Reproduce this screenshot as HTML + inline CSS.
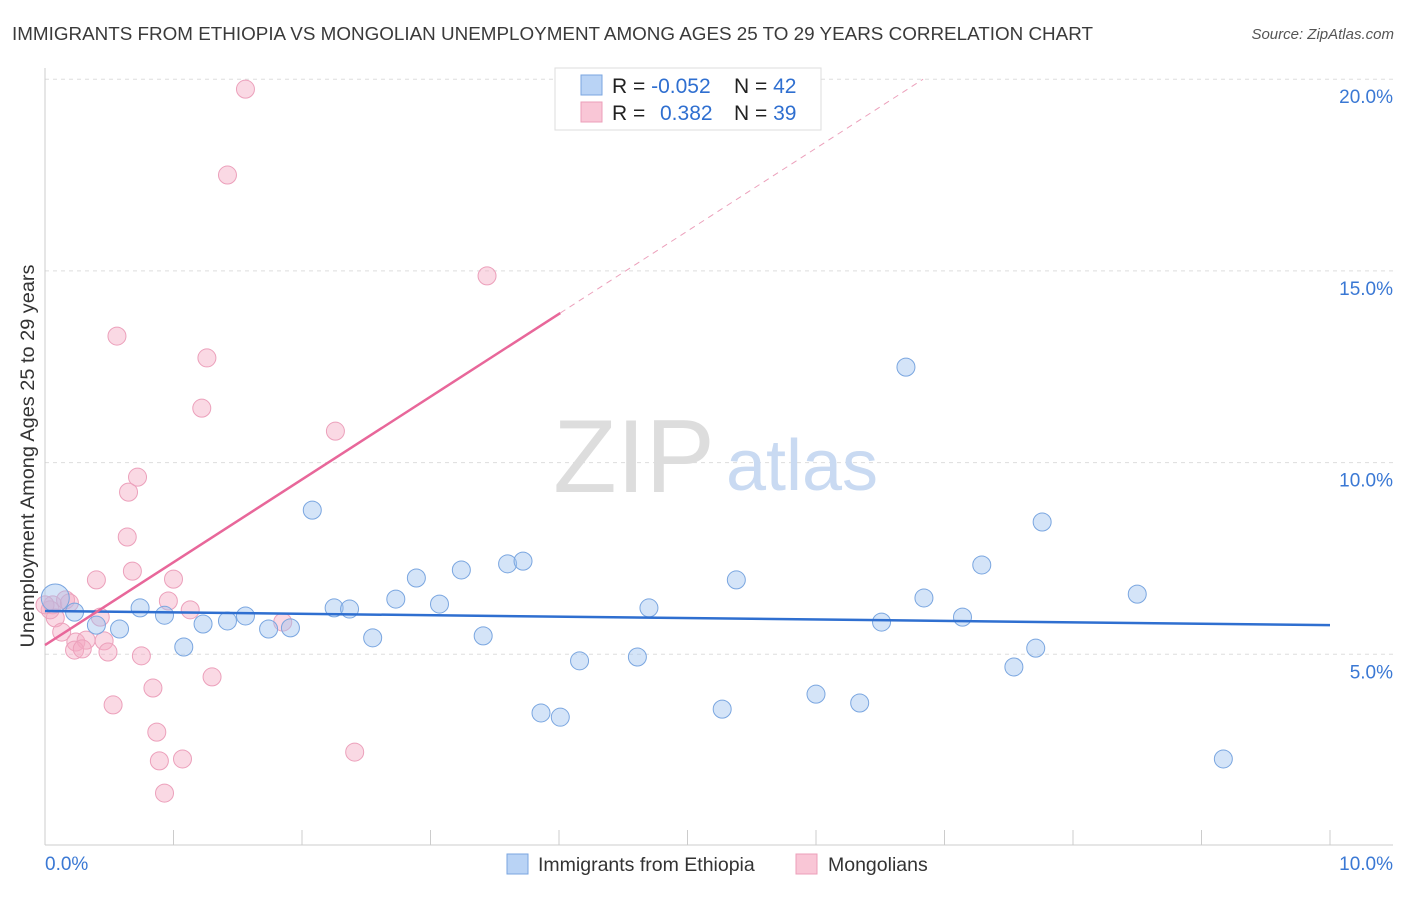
<!DOCTYPE html>
<html><head><meta charset="utf-8"><style>
body{margin:0;background:#fff;font-family:"Liberation Sans",sans-serif;}
svg text{font-family:"Liberation Sans",sans-serif;}
</style></head><body>
<svg id="chart" width="1406" height="892" xmlns="http://www.w3.org/2000/svg">
<text x="12" y="40" font-size="18.5" fill="#3a3a3a" textLength="1081" lengthAdjust="spacingAndGlyphs">IMMIGRANTS FROM ETHIOPIA VS MONGOLIAN UNEMPLOYMENT AMONG AGES 25 TO 29 YEARS CORRELATION CHART</text>
<text x="1394" y="39" font-size="15" fill="#555" text-anchor="end" font-style="italic">Source: ZipAtlas.com</text>
<g id="grid"></g>
<text x="634" y="492" font-size="104" fill="#ddd" font-family="Liberation Serif" text-anchor="middle">ZIP</text>
<text x="802" y="490" font-size="72" fill="#c9daf2" text-anchor="middle">atlas</text>
<g id="marks"></g>
<text transform="translate(34,456) rotate(-90)" font-size="19" fill="#333" text-anchor="middle" textLength="383" lengthAdjust="spacingAndGlyphs">Unemployment Among Ages 25 to 29 years</text>
<g>
<rect x="555" y="68" width="266" height="62" fill="#fff" stroke="#ddd"/>
<rect x="581" y="75" width="21" height="20" fill="#b9d3f5" stroke="#7aa6e0"/>
<rect x="581" y="102" width="21" height="20" fill="#f9c6d6" stroke="#ec9fb9"/>
<text x="612" y="93" font-size="21" fill="#222">R = <tspan fill="#2f6fd0">-0.052</tspan></text>
<text x="734" y="93" font-size="21" fill="#222">N = <tspan fill="#2f6fd0">42</tspan></text>
<text x="612" y="120" font-size="21" fill="#222">R = <tspan fill="#2f6fd0" x="660">0.382</tspan></text>
<text x="734" y="120" font-size="21" fill="#222">N = <tspan fill="#2f6fd0">39</tspan></text>
</g>
<g>
<rect x="507" y="854" width="21" height="20" fill="#b9d3f5" stroke="#7aa6e0"/>
<text x="538" y="871" font-size="19.5" fill="#333">Immigrants from Ethiopia</text>
<rect x="796" y="854" width="21" height="20" fill="#f9c6d6" stroke="#ec9fb9"/>
<text x="828" y="871" font-size="19.5" fill="#333">Mongolians</text>
</g>
</svg>
<script>
const yTicks=[5,10,15,20];
const yTickLabels=["5.0%","10.0%","15.0%","20.0%"];
const xTickLabels=["0.0%","10.0%"];
const blueX=[0.08,0.23,0.40,0.58,0.74,0.93,1.08,1.23,1.42,1.56,1.74,1.91,2.08,2.25,2.37,2.55,2.73,2.89,3.07,3.24,3.41,3.60,3.72,3.86,4.01,4.16,4.61,4.70,5.27,5.38,6.00,6.34,6.51,6.70,6.84,7.14,7.29,7.54,7.71,7.76,8.50,9.17];
const blueY=[6.47,6.10,5.76,5.66,6.21,6.02,5.19,5.79,5.87,6.00,5.66,5.69,8.76,6.21,6.18,5.43,6.44,6.99,6.31,7.20,5.48,7.36,7.43,3.47,3.36,4.83,4.93,6.21,3.57,6.94,3.96,3.73,5.84,12.49,6.47,5.97,7.33,4.67,5.16,8.45,6.57,2.27];
const pinkX=[1.56,1.42,3.44,0.56,1.26,1.22,2.26,0.72,0.65,0.64,0.68,0.40,1.00,0.96,1.13,0.06,0.16,0.19,0.08,0.13,0.24,0.32,0.43,0.46,0.23,0.29,0.49,0.75,0.84,0.53,0.87,0.89,1.07,0.93,1.30,2.41,1.85,0.04,0.00];
const pinkY=[19.74,17.50,14.87,13.30,12.73,11.42,10.82,9.62,9.23,8.06,7.17,6.94,6.96,6.39,6.16,6.29,6.42,6.34,5.95,5.58,5.32,5.37,5.97,5.35,5.11,5.14,5.06,4.96,4.12,3.68,2.97,2.22,2.27,1.38,4.41,2.45,5.84,6.16,6.29];
const blueTrend=[6.13,-0.037];
const pinkTrend=[5.24,2.16];
const pinkSolidEnd=4.01;

const NS="http://www.w3.org/2000/svg";
const X=v=>45+v*128.5, Y=v=>846-v*38.34;
function mk(t,a,p){const e=document.createElementNS(NS,t);for(const k in a)e.setAttribute(k,a[k]);p.appendChild(e);return e;}
const g=document.getElementById('grid'), m=document.getElementById('marks');
yTicks.forEach((t,i)=>{
 const l=mk('line',{x1:45,x2:1393,y1:Y(t),y2:Y(t),stroke:'#ddd','stroke-dasharray':'4,4'},g);
 
 
 const tx=mk('text',{x:1393,y:Y(t)+24,'font-size':19,fill:'#3a78d4','text-anchor':'end'},g);
 tx.textContent=yTickLabels[i];
 
 
});
const ax=mk('line',{x1:45,x2:1393,y1:845,y2:845,stroke:'#ccc'},g);


const ay=mk('line',{x1:45,x2:45,y1:68,y2:845,stroke:'#ccc'},g);


for(let i=0;i<=10;i++){
 const t=mk('line',{x1:X(i),x2:X(i),y1:830,y2:845,stroke:'#ccc'},g);
 
 
}
[[0,'start',45],[1,'end',1393]].forEach(([i,a,x])=>{
 const t=mk('text',{x:x,y:870,'font-size':19,fill:'#3a78d4','text-anchor':a},g);
 t.textContent=xTickLabels[i];
 
 
});
pinkX.forEach((x,i)=>{
 const c=mk('circle',{cx:X(x),cy:Y(pinkY[i]),r:9,fill:'rgba(245,170,195,0.45)',stroke:'#eca0bb','stroke-width':1},m);
 
 
});
blueX.forEach((x,i)=>{
 const c=mk('circle',{cx:X(x),cy:Y(blueY[i]),r:i==0?14:9,fill:'rgba(160,195,240,0.45)',stroke:'#7aa6e0','stroke-width':1},m);
 
 
});
const bl=mk('line',{x1:X(0),y1:Y(blueTrend[0]),x2:X(10),y2:Y(blueTrend[0]+10*blueTrend[1]),stroke:'#2f6fd0','stroke-width':2.5},m);


const pl=mk('line',{x1:X(0),y1:Y(pinkTrend[0]),x2:X(pinkSolidEnd),y2:Y(pinkTrend[0]+pinkSolidEnd*pinkTrend[1]),stroke:'#e8679a','stroke-width':2.5},m);


const xe=(20-pinkTrend[0])/pinkTrend[1];
const pd=mk('line',{x1:X(pinkSolidEnd),y1:Y(pinkTrend[0]+pinkSolidEnd*pinkTrend[1]),x2:X(xe),y2:Y(20),stroke:'#eca0bb','stroke-width':1,'stroke-dasharray':'6,5'},m);


</script>
</body></html>
